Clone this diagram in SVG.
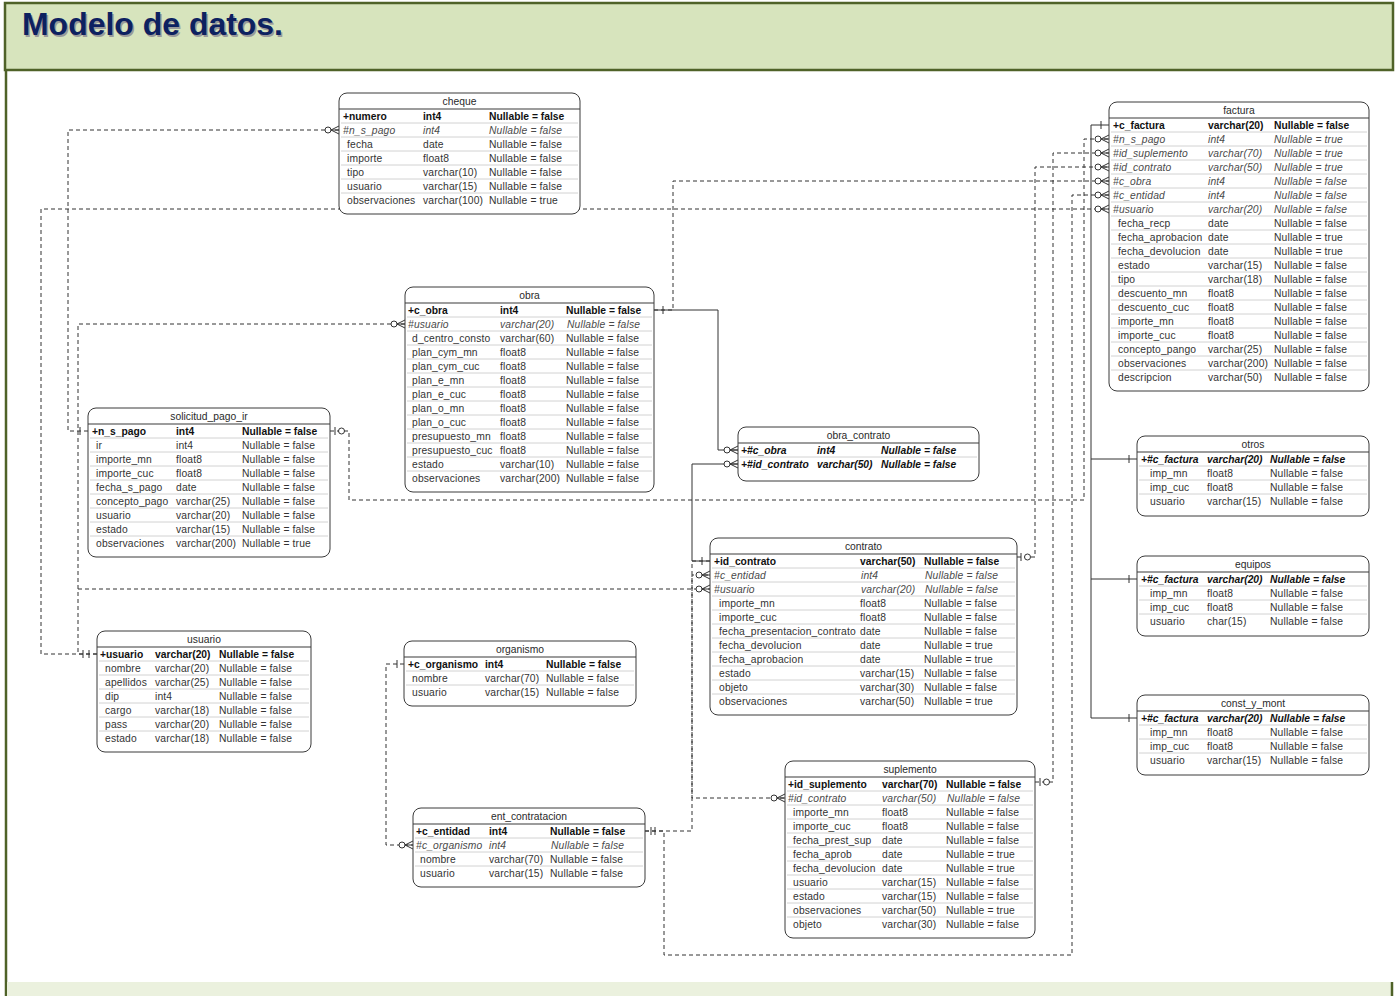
<svg xmlns="http://www.w3.org/2000/svg" width="1395" height="996" viewBox="0 0 1395 996">
  <style>
    .frame { fill: #d7e4bd; stroke: #4f6228; stroke-width: 2.5; }
    .edge { stroke: #4f6228; stroke-width: 2.5; fill: none; }
    .title { font-family: "Liberation Sans", Arial, sans-serif; font-size: 32px; font-weight: bold; }
    .box { fill: #ffffff; stroke: #3a3a3a; stroke-width: 1; }
    .hd { stroke: #3a3a3a; stroke-width: 1.2; fill: none; }
    .rl { stroke: #d2d2d2; stroke-width: 1; fill: none; }
    .tn { font-family: "Liberation Sans", Arial, sans-serif; font-size: 10.3px; fill: #2a2a2a; text-anchor: middle; }
    .r { font-family: "Liberation Sans", Arial, sans-serif; font-size: 10.3px; letter-spacing: 0.15px; fill: #333333; }
    .pk { font-weight: bold; fill: #111111; letter-spacing: 0; }
    .fk { font-style: italic; fill: #4a4a4a; }
    .pf { font-weight: bold; font-style: italic; fill: #111111; letter-spacing: 0; }
    .dash { stroke: #333333; stroke-width: 1; fill: none; stroke-dasharray: 4 3; }
    .solid { stroke: #333333; stroke-width: 1; fill: none; }
    .tick { stroke: #333333; stroke-width: 1; fill: none; }
    .zo { fill: #ffffff; stroke: #333333; stroke-width: 1; }
  </style>
  <defs>
    <!-- zero-or-many end: circle plus crow's foot, tip on the table edge -->
    <marker id="crow" viewBox="-16 -6 17 12" refX="0" refY="0" markerWidth="17" markerHeight="12" markerUnits="userSpaceOnUse" orient="auto" overflow="visible">
      <path d="M-8,0 L0,-4 M-8,0 L0,0 M-8,0 L0,4" stroke="#333333" stroke-width="1" fill="none" stroke-dasharray="none"/>
      <circle cx="-11" cy="0" r="3" fill="#ffffff" stroke="#333333" stroke-width="1" stroke-dasharray="none"/>
    </marker>
  </defs>

  <!-- page frame -->
  <rect x="0" y="0" width="1395" height="996" fill="#ffffff"/>
  <rect class="frame" x="5" y="3" width="1388" height="67"/>
  <path class="edge" d="M6,70 V996"/>
  <rect x="7" y="982" width="1385" height="14" fill="#ebf1de"/>
  <path class="edge" d="M1392,982 V996"/>
  <text class="title" x="23.5" y="36.5" fill="#9a9a9a" textLength="261" lengthAdjust="spacingAndGlyphs">Modelo de datos.</text>
  <text class="title" x="22" y="35" fill="#0d2160" textLength="261" lengthAdjust="spacingAndGlyphs">Modelo de datos.</text>

  <!-- relationships -->
  <g id="connectors">
    <!-- identifying (solid) -->
    <path class="solid" d="M1109,125 H1091 V718 H1137 M1091,459 H1137 M1091,579 H1137"/>
    <path class="tick" d="M1101,121 V129 M1129,455 V463 M1129,575 V583 M1129,714 V722"/>
    <path class="solid" d="M654,310 H718 V450 H738" marker-end="url(#crow)"/>
    <path class="solid" d="M710,561 H692 V464 H738" marker-end="url(#crow)"/>
    <path class="tick" d="M663,306 V314 M702,557 V565"/>

    <!-- non-identifying (dashed) -->
    <path class="dash" d="M88,431 H68 V130 H339" marker-end="url(#crow)"/>
    <path class="dash" d="M97,654 H41 V209 H1109" marker-end="url(#crow)"/>
    <path class="dash" d="M97,654 H78 V324 H405" marker-end="url(#crow)"/>
    <path class="dash" d="M78,589 H710" marker-end="url(#crow)"/>
    <path class="dash" d="M330,431 H349 V500 H1084 V139 H1109" marker-end="url(#crow)"/>
    <path class="dash" d="M654,310 H673 V181 H1109" marker-end="url(#crow)"/>
    <path class="dash" d="M1017,557 H1035 V167 H1109" marker-end="url(#crow)"/>
    <path class="dash" d="M1035,782 H1053 V153 H1109" marker-end="url(#crow)"/>
    <path class="dash" d="M645,831 H664 V955 H1072 V195 H1109" marker-end="url(#crow)"/>
    <path class="dash" d="M645,831 H692 V575 H710" marker-end="url(#crow)"/>
    <path class="dash" d="M710,561 H692 V798 H785" marker-end="url(#crow)"/>
    <path class="dash" d="M404,664 H386 V845 H413" marker-end="url(#crow)"/>
    <path class="tick" d="M80,427 V435 M83,650 V658 M89,650 V658 M397,660 V668 M651,827 V835 M655,827 V835"/>
    <!-- zero-or-one ends -->
    <path class="tick" d="M335,427 V435 M1021,553 V561 M1040,778 V786"/>
    <circle class="zo" cx="341.5" cy="431" r="3"/>
    <circle class="zo" cx="1027.5" cy="557" r="3"/>
    <circle class="zo" cx="1046.5" cy="782" r="3"/>
  </g>

  <!-- cheque -->
  <g id="cheque">
    <rect class="box" x="339" y="93" width="241" height="121" rx="8"/>
    <text class="tn" x="459.5" y="105">cheque</text>
    <path class="hd" d="M339,109 H580"/>
    <path class="rl" d="M341,123 H578 M341,137 H578 M341,151 H578 M341,165 H578 M341,179 H578 M341,193 H578"/>
    <text class="r pk" y="120"><tspan x="343">+numero</tspan><tspan x="423">int4</tspan><tspan x="489">Nullable = false</tspan></text>
    <text class="r fk" y="134"><tspan x="343">#n_s_pago</tspan><tspan x="423">int4</tspan><tspan x="489">Nullable = false</tspan></text>
    <text class="r" y="148"><tspan x="347">fecha</tspan><tspan x="423">date</tspan><tspan x="489">Nullable = false</tspan></text>
    <text class="r" y="162"><tspan x="347">importe</tspan><tspan x="423">float8</tspan><tspan x="489">Nullable = false</tspan></text>
    <text class="r" y="176"><tspan x="347">tipo</tspan><tspan x="423">varchar(10)</tspan><tspan x="489">Nullable = false</tspan></text>
    <text class="r" y="190"><tspan x="347">usuario</tspan><tspan x="423">varchar(15)</tspan><tspan x="489">Nullable = false</tspan></text>
    <text class="r" y="204"><tspan x="347">observaciones</tspan><tspan x="423">varchar(100)</tspan><tspan x="489">Nullable = true</tspan></text>
  </g>

  <!-- factura -->
  <g id="factura">
    <rect class="box" x="1109" y="102" width="260" height="289" rx="8"/>
    <text class="tn" x="1239" y="114">factura</text>
    <path class="hd" d="M1109,118 H1369"/>
    <path class="rl" d="M1111,132 H1367 M1111,146 H1367 M1111,160 H1367 M1111,174 H1367 M1111,188 H1367 M1111,202 H1367 M1111,216 H1367 M1111,230 H1367 M1111,244 H1367 M1111,258 H1367 M1111,272 H1367 M1111,286 H1367 M1111,300 H1367 M1111,314 H1367 M1111,328 H1367 M1111,342 H1367 M1111,356 H1367 M1111,370 H1367"/>
    <text class="r pk" y="129"><tspan x="1113">+c_factura</tspan><tspan x="1208">varchar(20)</tspan><tspan x="1274">Nullable = false</tspan></text>
    <text class="r fk" y="143"><tspan x="1113">#n_s_pago</tspan><tspan x="1208">int4</tspan><tspan x="1274">Nullable = true</tspan></text>
    <text class="r fk" y="157"><tspan x="1113">#id_suplemento</tspan><tspan x="1208">varchar(70)</tspan><tspan x="1274">Nullable = true</tspan></text>
    <text class="r fk" y="171"><tspan x="1113">#id_contrato</tspan><tspan x="1208">varchar(50)</tspan><tspan x="1274">Nullable = true</tspan></text>
    <text class="r fk" y="185"><tspan x="1113">#c_obra</tspan><tspan x="1208">int4</tspan><tspan x="1274">Nullable = false</tspan></text>
    <text class="r fk" y="199"><tspan x="1113">#c_entidad</tspan><tspan x="1208">int4</tspan><tspan x="1274">Nullable = false</tspan></text>
    <text class="r fk" y="213"><tspan x="1113">#usuario</tspan><tspan x="1208">varchar(20)</tspan><tspan x="1274">Nullable = false</tspan></text>
    <text class="r" y="227"><tspan x="1118">fecha_recp</tspan><tspan x="1208">date</tspan><tspan x="1274">Nullable = false</tspan></text>
    <text class="r" y="241"><tspan x="1118">fecha_aprobacion</tspan><tspan x="1208">date</tspan><tspan x="1274">Nullable = true</tspan></text>
    <text class="r" y="255"><tspan x="1118">fecha_devolucion</tspan><tspan x="1208">date</tspan><tspan x="1274">Nullable = true</tspan></text>
    <text class="r" y="269"><tspan x="1118">estado</tspan><tspan x="1208">varchar(15)</tspan><tspan x="1274">Nullable = false</tspan></text>
    <text class="r" y="283"><tspan x="1118">tipo</tspan><tspan x="1208">varchar(18)</tspan><tspan x="1274">Nullable = false</tspan></text>
    <text class="r" y="297"><tspan x="1118">descuento_mn</tspan><tspan x="1208">float8</tspan><tspan x="1274">Nullable = false</tspan></text>
    <text class="r" y="311"><tspan x="1118">descuento_cuc</tspan><tspan x="1208">float8</tspan><tspan x="1274">Nullable = false</tspan></text>
    <text class="r" y="325"><tspan x="1118">importe_mn</tspan><tspan x="1208">float8</tspan><tspan x="1274">Nullable = false</tspan></text>
    <text class="r" y="339"><tspan x="1118">importe_cuc</tspan><tspan x="1208">float8</tspan><tspan x="1274">Nullable = false</tspan></text>
    <text class="r" y="353"><tspan x="1118">concepto_pango</tspan><tspan x="1208">varchar(25)</tspan><tspan x="1274">Nullable = false</tspan></text>
    <text class="r" y="367"><tspan x="1118">observaciones</tspan><tspan x="1208">varchar(200)</tspan><tspan x="1274">Nullable = false</tspan></text>
    <text class="r" y="381"><tspan x="1118">descripcion</tspan><tspan x="1208">varchar(50)</tspan><tspan x="1274">Nullable = false</tspan></text>
  </g>

  <!-- obra -->
  <g id="obra">
    <rect class="box" x="405" y="287" width="249" height="205" rx="8"/>
    <text class="tn" x="529.5" y="299">obra</text>
    <path class="hd" d="M405,303 H654"/>
    <path class="rl" d="M407,317 H652 M407,331 H652 M407,345 H652 M407,359 H652 M407,373 H652 M407,387 H652 M407,401 H652 M407,415 H652 M407,429 H652 M407,443 H652 M407,457 H652 M407,471 H652"/>
    <text class="r pk" y="314"><tspan x="408">+c_obra</tspan><tspan x="500">int4</tspan><tspan x="566">Nullable = false</tspan></text>
    <text class="r fk" y="328"><tspan x="408">#usuario</tspan><tspan x="500">varchar(20)</tspan><tspan x="567">Nullable = false</tspan></text>
    <text class="r" y="342"><tspan x="412">d_centro_consto</tspan><tspan x="500">varchar(60)</tspan><tspan x="566">Nullable = false</tspan></text>
    <text class="r" y="356"><tspan x="412">plan_cym_mn</tspan><tspan x="500">float8</tspan><tspan x="566">Nullable = false</tspan></text>
    <text class="r" y="370"><tspan x="412">plan_cym_cuc</tspan><tspan x="500">float8</tspan><tspan x="566">Nullable = false</tspan></text>
    <text class="r" y="384"><tspan x="412">plan_e_mn</tspan><tspan x="500">float8</tspan><tspan x="566">Nullable = false</tspan></text>
    <text class="r" y="398"><tspan x="412">plan_e_cuc</tspan><tspan x="500">float8</tspan><tspan x="566">Nullable = false</tspan></text>
    <text class="r" y="412"><tspan x="412">plan_o_mn</tspan><tspan x="500">float8</tspan><tspan x="566">Nullable = false</tspan></text>
    <text class="r" y="426"><tspan x="412">plan_o_cuc</tspan><tspan x="500">float8</tspan><tspan x="566">Nullable = false</tspan></text>
    <text class="r" y="440"><tspan x="412">presupuesto_mn</tspan><tspan x="500">float8</tspan><tspan x="566">Nullable = false</tspan></text>
    <text class="r" y="454"><tspan x="412">presupuesto_cuc</tspan><tspan x="500">float8</tspan><tspan x="566">Nullable = false</tspan></text>
    <text class="r" y="468"><tspan x="412">estado</tspan><tspan x="500">varchar(10)</tspan><tspan x="566">Nullable = false</tspan></text>
    <text class="r" y="482"><tspan x="412">observaciones</tspan><tspan x="500">varchar(200)</tspan><tspan x="566">Nullable = false</tspan></text>
  </g>

  <!-- solicitud_pago_ir -->
  <g id="solicitud_pago_ir">
    <rect class="box" x="88" y="408" width="242" height="149" rx="8"/>
    <text class="tn" x="209" y="420">solicitud_pago_ir</text>
    <path class="hd" d="M88,424 H330"/>
    <path class="rl" d="M90,438 H328 M90,452 H328 M90,466 H328 M90,480 H328 M90,494 H328 M90,508 H328 M90,522 H328 M90,536 H328"/>
    <text class="r pk" y="435"><tspan x="92">+n_s_pago</tspan><tspan x="176">int4</tspan><tspan x="242">Nullable = false</tspan></text>
    <text class="r" y="449"><tspan x="96">ir</tspan><tspan x="176">int4</tspan><tspan x="242">Nullable = false</tspan></text>
    <text class="r" y="463"><tspan x="96">importe_mn</tspan><tspan x="176">float8</tspan><tspan x="242">Nullable = false</tspan></text>
    <text class="r" y="477"><tspan x="96">importe_cuc</tspan><tspan x="176">float8</tspan><tspan x="242">Nullable = false</tspan></text>
    <text class="r" y="491"><tspan x="96">fecha_s_pago</tspan><tspan x="176">date</tspan><tspan x="242">Nullable = false</tspan></text>
    <text class="r" y="505"><tspan x="96">concepto_pago</tspan><tspan x="176">varchar(25)</tspan><tspan x="242">Nullable = false</tspan></text>
    <text class="r" y="519"><tspan x="96">usuario</tspan><tspan x="176">varchar(20)</tspan><tspan x="242">Nullable = false</tspan></text>
    <text class="r" y="533"><tspan x="96">estado</tspan><tspan x="176">varchar(15)</tspan><tspan x="242">Nullable = false</tspan></text>
    <text class="r" y="547"><tspan x="96">observaciones</tspan><tspan x="176">varchar(200)</tspan><tspan x="242">Nullable = true</tspan></text>
  </g>

  <!-- usuario -->
  <g id="usuario">
    <rect class="box" x="97" y="631" width="214" height="121" rx="8"/>
    <text class="tn" x="204" y="643">usuario</text>
    <path class="hd" d="M97,647 H311"/>
    <path class="rl" d="M99,661 H309 M99,675 H309 M99,689 H309 M99,703 H309 M99,717 H309 M99,731 H309"/>
    <text class="r pk" y="658"><tspan x="100">+usuario</tspan><tspan x="155">varchar(20)</tspan><tspan x="219">Nullable = false</tspan></text>
    <text class="r" y="672"><tspan x="105">nombre</tspan><tspan x="155">varchar(20)</tspan><tspan x="219">Nullable = false</tspan></text>
    <text class="r" y="686"><tspan x="105">apellidos</tspan><tspan x="155">varchar(25)</tspan><tspan x="219">Nullable = false</tspan></text>
    <text class="r" y="700"><tspan x="105">dip</tspan><tspan x="155">int4</tspan><tspan x="219">Nullable = false</tspan></text>
    <text class="r" y="714"><tspan x="105">cargo</tspan><tspan x="155">varchar(18)</tspan><tspan x="219">Nullable = false</tspan></text>
    <text class="r" y="728"><tspan x="105">pass</tspan><tspan x="155">varchar(20)</tspan><tspan x="219">Nullable = false</tspan></text>
    <text class="r" y="742"><tspan x="105">estado</tspan><tspan x="155">varchar(18)</tspan><tspan x="219">Nullable = false</tspan></text>
  </g>

  <!-- organismo -->
  <g id="organismo">
    <rect class="box" x="404" y="641" width="232" height="65" rx="8"/>
    <text class="tn" x="520" y="653">organismo</text>
    <path class="hd" d="M404,657 H636"/>
    <path class="rl" d="M406,671 H634 M406,685 H634"/>
    <text class="r pk" y="668"><tspan x="408">+c_organismo</tspan><tspan x="485">int4</tspan><tspan x="546">Nullable = false</tspan></text>
    <text class="r" y="682"><tspan x="412">nombre</tspan><tspan x="485">varchar(70)</tspan><tspan x="546">Nullable = false</tspan></text>
    <text class="r" y="696"><tspan x="412">usuario</tspan><tspan x="485">varchar(15)</tspan><tspan x="546">Nullable = false</tspan></text>
  </g>

  <!-- ent_contratacion -->
  <g id="ent_contratacion">
    <rect class="box" x="413" y="808" width="232" height="79" rx="8"/>
    <text class="tn" x="529" y="820">ent_contratacion</text>
    <path class="hd" d="M413,824 H645"/>
    <path class="rl" d="M415,838 H643 M415,852 H643 M415,866 H643"/>
    <text class="r pk" y="835"><tspan x="416">+c_entidad</tspan><tspan x="489">int4</tspan><tspan x="550">Nullable = false</tspan></text>
    <text class="r fk" y="849"><tspan x="416">#c_organismo</tspan><tspan x="489">int4</tspan><tspan x="551">Nullable = false</tspan></text>
    <text class="r" y="863"><tspan x="420">nombre</tspan><tspan x="489">varchar(70)</tspan><tspan x="550">Nullable = false</tspan></text>
    <text class="r" y="877"><tspan x="420">usuario</tspan><tspan x="489">varchar(15)</tspan><tspan x="550">Nullable = false</tspan></text>
  </g>

  <!-- obra_contrato -->
  <g id="obra_contrato">
    <rect class="box" x="738" y="427" width="241" height="54" rx="8"/>
    <text class="tn" x="858.5" y="439">obra_contrato</text>
    <path class="hd" d="M738,443 H979"/>
    <path class="rl" d="M740,457 H977"/>
    <text class="r pf" y="454"><tspan x="741">+#c_obra</tspan><tspan x="817">int4</tspan><tspan x="881">Nullable = false</tspan></text>
    <text class="r pf" y="468"><tspan x="741">+#id_contrato</tspan><tspan x="817">varchar(50)</tspan><tspan x="881">Nullable = false</tspan></text>
  </g>

  <!-- contrato -->
  <g id="contrato">
    <rect class="box" x="710" y="538" width="307" height="177" rx="8"/>
    <text class="tn" x="863.5" y="550">contrato</text>
    <path class="hd" d="M710,554 H1017"/>
    <path class="rl" d="M712,568 H1015 M712,582 H1015 M712,596 H1015 M712,610 H1015 M712,624 H1015 M712,638 H1015 M712,652 H1015 M712,666 H1015 M712,680 H1015 M712,694 H1015"/>
    <text class="r pk" y="565"><tspan x="714">+id_contrato</tspan><tspan x="860">varchar(50)</tspan><tspan x="924">Nullable = false</tspan></text>
    <text class="r fk" y="579"><tspan x="714">#c_entidad</tspan><tspan x="861">int4</tspan><tspan x="925">Nullable = false</tspan></text>
    <text class="r fk" y="593"><tspan x="714">#usuario</tspan><tspan x="861">varchar(20)</tspan><tspan x="925">Nullable = false</tspan></text>
    <text class="r" y="607"><tspan x="719">importe_mn</tspan><tspan x="860">float8</tspan><tspan x="924">Nullable = false</tspan></text>
    <text class="r" y="621"><tspan x="719">importe_cuc</tspan><tspan x="860">float8</tspan><tspan x="924">Nullable = false</tspan></text>
    <text class="r" y="635"><tspan x="719">fecha_presentacion_contrato</tspan><tspan x="860">date</tspan><tspan x="924">Nullable = false</tspan></text>
    <text class="r" y="649"><tspan x="719">fecha_devolucion</tspan><tspan x="860">date</tspan><tspan x="924">Nullable = true</tspan></text>
    <text class="r" y="663"><tspan x="719">fecha_aprobacion</tspan><tspan x="860">date</tspan><tspan x="924">Nullable = true</tspan></text>
    <text class="r" y="677"><tspan x="719">estado</tspan><tspan x="860">varchar(15)</tspan><tspan x="924">Nullable = false</tspan></text>
    <text class="r" y="691"><tspan x="719">objeto</tspan><tspan x="860">varchar(30)</tspan><tspan x="924">Nullable = false</tspan></text>
    <text class="r" y="705"><tspan x="719">observaciones</tspan><tspan x="860">varchar(50)</tspan><tspan x="924">Nullable = true</tspan></text>
  </g>

  <!-- suplemento -->
  <g id="suplemento">
    <rect class="box" x="785" y="761" width="250" height="177" rx="8"/>
    <text class="tn" x="910" y="773">suplemento</text>
    <path class="hd" d="M785,777 H1035"/>
    <path class="rl" d="M787,791 H1033 M787,805 H1033 M787,819 H1033 M787,833 H1033 M787,847 H1033 M787,861 H1033 M787,875 H1033 M787,889 H1033 M787,903 H1033 M787,917 H1033"/>
    <text class="r pk" y="788"><tspan x="788">+id_suplemento</tspan><tspan x="882">varchar(70)</tspan><tspan x="946">Nullable = false</tspan></text>
    <text class="r fk" y="802"><tspan x="788">#id_contrato</tspan><tspan x="882">varchar(50)</tspan><tspan x="947">Nullable = false</tspan></text>
    <text class="r" y="816"><tspan x="793">importe_mn</tspan><tspan x="882">float8</tspan><tspan x="946">Nullable = false</tspan></text>
    <text class="r" y="830"><tspan x="793">importe_cuc</tspan><tspan x="882">float8</tspan><tspan x="946">Nullable = false</tspan></text>
    <text class="r" y="844"><tspan x="793">fecha_prest_sup</tspan><tspan x="882">date</tspan><tspan x="946">Nullable = false</tspan></text>
    <text class="r" y="858"><tspan x="793">fecha_aprob</tspan><tspan x="882">date</tspan><tspan x="946">Nullable = true</tspan></text>
    <text class="r" y="872"><tspan x="793">fecha_devolucion</tspan><tspan x="882">date</tspan><tspan x="946">Nullable = true</tspan></text>
    <text class="r" y="886"><tspan x="793">usuario</tspan><tspan x="882">varchar(15)</tspan><tspan x="946">Nullable = false</tspan></text>
    <text class="r" y="900"><tspan x="793">estado</tspan><tspan x="882">varchar(15)</tspan><tspan x="946">Nullable = false</tspan></text>
    <text class="r" y="914"><tspan x="793">observaciones</tspan><tspan x="882">varchar(50)</tspan><tspan x="946">Nullable = true</tspan></text>
    <text class="r" y="928"><tspan x="793">objeto</tspan><tspan x="882">varchar(30)</tspan><tspan x="946">Nullable = false</tspan></text>
  </g>

  <!-- otros -->
  <g id="otros">
    <rect class="box" x="1137" y="436" width="232" height="80" rx="8"/>
    <text class="tn" x="1253" y="448">otros</text>
    <path class="hd" d="M1137,452 H1369"/>
    <path class="rl" d="M1139,466 H1367 M1139,480 H1367 M1139,494 H1367"/>
    <text class="r pf" y="463"><tspan x="1141">+#c_factura</tspan><tspan x="1207">varchar(20)</tspan><tspan x="1270">Nullable = false</tspan></text>
    <text class="r" y="477"><tspan x="1150">imp_mn</tspan><tspan x="1207">float8</tspan><tspan x="1270">Nullable = false</tspan></text>
    <text class="r" y="491"><tspan x="1150">imp_cuc</tspan><tspan x="1207">float8</tspan><tspan x="1270">Nullable = false</tspan></text>
    <text class="r" y="505"><tspan x="1150">usuario</tspan><tspan x="1207">varchar(15)</tspan><tspan x="1270">Nullable = false</tspan></text>
  </g>

  <!-- equipos -->
  <g id="equipos">
    <rect class="box" x="1137" y="556" width="232" height="80" rx="8"/>
    <text class="tn" x="1253" y="568">equipos</text>
    <path class="hd" d="M1137,572 H1369"/>
    <path class="rl" d="M1139,586 H1367 M1139,600 H1367 M1139,614 H1367"/>
    <text class="r pf" y="583"><tspan x="1141">+#c_factura</tspan><tspan x="1207">varchar(20)</tspan><tspan x="1270">Nullable = false</tspan></text>
    <text class="r" y="597"><tspan x="1150">imp_mn</tspan><tspan x="1207">float8</tspan><tspan x="1270">Nullable = false</tspan></text>
    <text class="r" y="611"><tspan x="1150">imp_cuc</tspan><tspan x="1207">float8</tspan><tspan x="1270">Nullable = false</tspan></text>
    <text class="r" y="625"><tspan x="1150">usuario</tspan><tspan x="1207">char(15)</tspan><tspan x="1270">Nullable = false</tspan></text>
  </g>

  <!-- const_y_mont -->
  <g id="const_y_mont">
    <rect class="box" x="1137" y="695" width="232" height="80" rx="8"/>
    <text class="tn" x="1253" y="707">const_y_mont</text>
    <path class="hd" d="M1137,711 H1369"/>
    <path class="rl" d="M1139,725 H1367 M1139,739 H1367 M1139,753 H1367"/>
    <text class="r pf" y="722"><tspan x="1141">+#c_factura</tspan><tspan x="1207">varchar(20)</tspan><tspan x="1270">Nullable = false</tspan></text>
    <text class="r" y="736"><tspan x="1150">imp_mn</tspan><tspan x="1207">float8</tspan><tspan x="1270">Nullable = false</tspan></text>
    <text class="r" y="750"><tspan x="1150">imp_cuc</tspan><tspan x="1207">float8</tspan><tspan x="1270">Nullable = false</tspan></text>
    <text class="r" y="764"><tspan x="1150">usuario</tspan><tspan x="1207">varchar(15)</tspan><tspan x="1270">Nullable = false</tspan></text>
  </g>
</svg>
